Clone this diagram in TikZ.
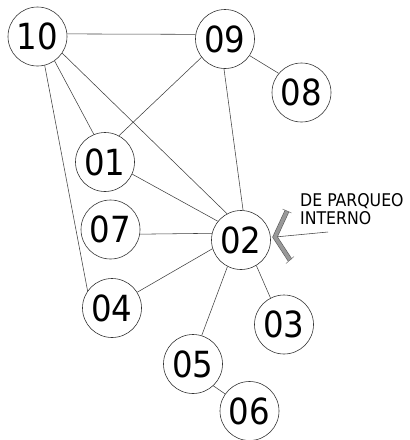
\documentclass[tikz,border=0pt]{standalone}
\usepackage{fontspec}
\usetikzlibrary{calc}
\setmainfont{DejaVu Sans Condensed}
\begin{document}
\begin{tikzpicture}[x=1pt,y=-1pt,
  room/.style={circle,draw=black!80,line width=0.6pt,minimum size=59pt,inner sep=0pt,font=\fontsize{36}{36}\selectfont},
  link/.style={draw=black!75,line width=0.55pt}]
\useasboundingbox (0,0) rectangle (410,440);
\node[room] (n10) at (37.5,36.5) {10};
\node[room] (n09) at (225,39) {09};
\node[room] (n08) at (301.5,92.5) {08};
\node[room] (n01) at (105,162) {01};
\node[room] (n07) at (110.5,229.5) {07};
\node[room] (n02) at (241,240) {02};
\node[room] (n04) at (112,308) {04};
\node[room] (n03) at (284,324.5) {03};
\node[room] (n05) at (193,364) {05};
\node[room] (n06) at (249.5,411) {06};
\draw[link] (n10.5) -- (n09.171);
\draw[link] (n10.-55) -- (n01.112);
\draw[link] (n10.-34) -- (n02.118);
\draw[link] (n10.-76) -- (n04.145);
\draw[link] (n09.-142) -- (n01.62);
\draw[link] (n09.-92) -- (n02.86);
\draw[link] (n09.-34) -- (n08.140);
\draw[link] (n01.-24) -- (n02.141);
\draw[link] (n07.-9) -- (n02.167);
\draw[link] (n04.32) -- (n02.-163);
\draw[link] (n02.-117) -- (n05.73);
\draw[link] (n02.-59) -- (n03.117);
\draw[link] (n05.-47) -- (n06.145);
% entrance chevron
\coordinate (ca) at (287,211);
\coordinate (cv) at (275,237);
\coordinate (cb) at (290,260);
\coordinate (ce) at (328,232);
\draw[link] (cv) -- (ce);
\draw[draw=black!65,double=black!40,double distance=3.6pt,line width=0.6pt] (ca) -- (cv) -- (cb);
\draw[black!55,line width=0.5pt] ($(ca)+(-4.5,-2)$) -- ($(ca)+(4.5,2)$);
\draw[black!55,line width=0.5pt] ($(cb)+(-4,3.5)$) -- ($(cb)+(4,-3.5)$);
\node[anchor=north west,align=left,inner sep=0pt,font=\fontsize{17.5}{18.5}\selectfont] (lbl) at (300,193) {DE PARQUEO\\INTERNO};
\end{tikzpicture}
\end{document}
